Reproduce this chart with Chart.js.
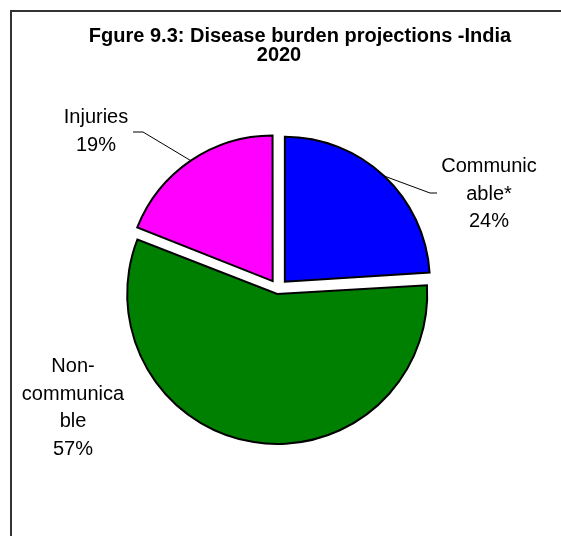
<!DOCTYPE html>
<html>
<head>
<meta charset="utf-8">
<script src="https://cdn.jsdelivr.net/npm/chart.js@4/dist/chart.umd.min.js"></script>
<style>
  html, body { margin: 0; padding: 0; background: #ffffff; }
  #wrap { width: 561px; height: 536px; position: relative; }
  canvas { display: block; }
</style>
</head>
<body>
<div id="wrap"><canvas id="c" width="561" height="536"></canvas></div>
<script>
// ---- data ----
const titleLines = ['Fgure 9.3: Disease burden projections -India', '2020'];
const categories = ['Communicable*', 'Non-communicable', 'Injuries'];
const categoryLines = [['Communic', 'able*'], ['Non-', 'communica', 'ble'], ['Injuries']];
const values = [24, 57, 19];
const sliceColors = ['#0000FF', '#008000', '#FF00FF'];

// ---- label layout (label block centre / first baseline / leader elbow) ----
const labelLayout = [
  { cx: 489, top: 172, elbow: [430, 193], end: [437, 193] },
  { cx: 73,  top: 372, elbow: null, end: null },
  { cx: 96,  top: 123, elbow: [143, 132], end: [133, 132] }
];

const frameAndLabels = {
  id: 'frameAndLabels',
  afterDraw(chart) {
    const ctx = chart.ctx;
    ctx.save();
    // frame
    ctx.strokeStyle = '#333333';
    ctx.lineWidth = 2;
    ctx.beginPath();
    ctx.moveTo(11, 536);
    ctx.lineTo(11, 11);
    ctx.lineTo(561, 11);
    ctx.stroke();

    // title
    ctx.fillStyle = '#000000';
    ctx.textAlign = 'center';
    ctx.textBaseline = 'alphabetic';
    ctx.font = 'bold 20px "Liberation Sans", Arial, sans-serif';
    ctx.fillText(titleLines[0], 300, 42);
    ctx.fillText(titleLines[1], 279, 61);

    // labels + leader lines
    const total = values.reduce((a, b) => a + b, 0);
    const meta = chart.getDatasetMeta(0);
    ctx.font = '20px "Liberation Sans", Arial, sans-serif';
    meta.data.forEach((arc, i) => {
      const L = labelLayout[i];
      const lines = categoryLines[i].concat([Math.round(values[i] / total * 100) + '%']);
      ctx.fillStyle = '#000000';
      lines.forEach((t, k) => ctx.fillText(t, L.cx, L.top + k * 27.6));
      if (L.elbow) {
        const p = arc.getProps(['x', 'y', 'startAngle', 'endAngle', 'outerRadius', 'circumference'], true);
        const mid = (p.startAngle + p.endAngle) / 2;
        const base = (arc.options.offset || 0) / 4;
        const fix = 1 - Math.sin(Math.min(Math.PI, p.circumference || 0));
        const r = p.outerRadius + base * (1 + fix);
        const sx = p.x + r * Math.cos(mid);
        const sy = p.y + r * Math.sin(mid);
        ctx.strokeStyle = '#000000';
        ctx.lineWidth = 1;
        ctx.beginPath();
        ctx.moveTo(sx, sy);
        ctx.lineTo(L.elbow[0], L.elbow[1]);
        ctx.lineTo(L.end[0], L.end[1]);
        ctx.stroke();
      }
    });
    ctx.restore();
  }
};

new Chart(document.getElementById('c'), {
  type: 'pie',
  data: {
    labels: categories,
    datasets: [{
      data: values,
      backgroundColor: sliceColors,
      borderColor: '#000000',
      borderWidth: 2,
      borderJoinStyle: 'miter',
      offset: [40, 20, 38],
      radius: 145
    }]
  },
  options: {
    responsive: false,
    devicePixelRatio: 1,
    animation: false,
    layout: { padding: { left: 0, right: 5, top: 42, bottom: 0 } },
    plugins: {
      legend: { display: false },
      title: { display: false },
      tooltip: { enabled: false }
    }
  },
  plugins: [frameAndLabels]
});
</script>
</body>
</html>
